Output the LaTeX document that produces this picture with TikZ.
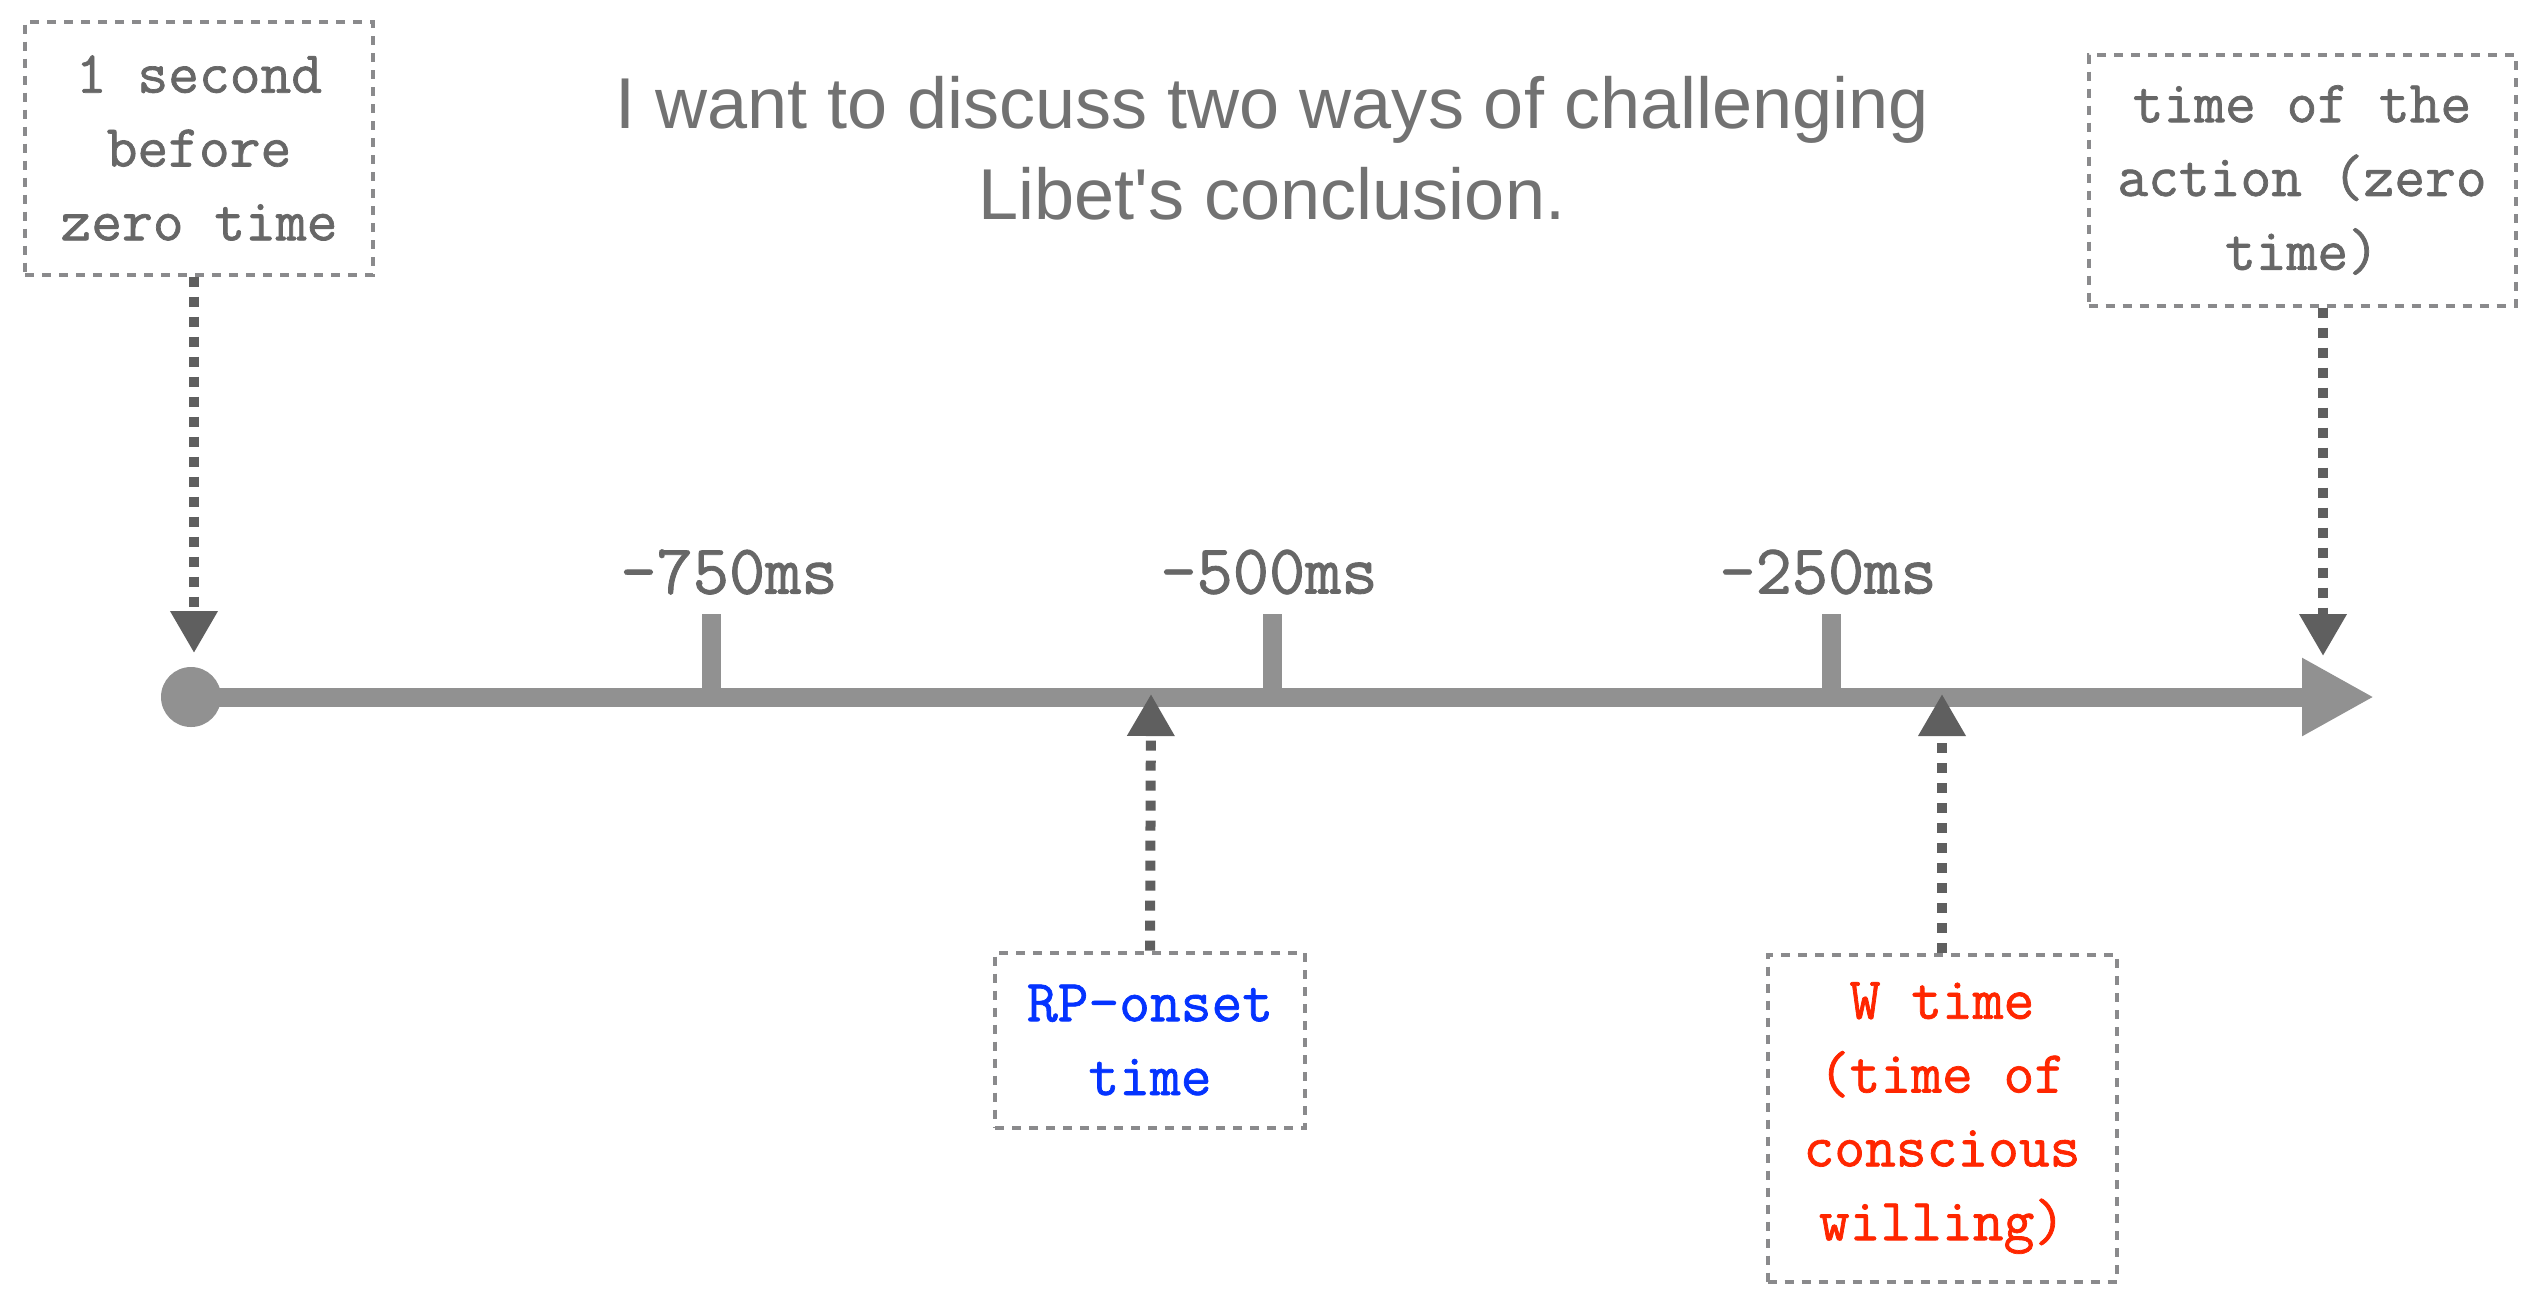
\documentclass[tikz,border=0pt]{standalone}
\usepackage{fontspec}
\newfontfamily\headfont{Liberation Sans}
\newfontfamily\typefont[FakeBold=1.2]{Latin Modern Mono}
\usetikzlibrary{arrows.meta}
\definecolor{axisgray}{HTML}{919191}
\definecolor{boxgray}{HTML}{8A8A8C}
\definecolor{arrowgray}{HTML}{5F5F5F}
\definecolor{textgray}{HTML}{676767}
\definecolor{headgray}{HTML}{727272}
\definecolor{rpblue}{HTML}{0433FF}
\definecolor{wred}{HTML}{FF2600}

\begin{document}
\begin{tikzpicture}[x=0.1mm, y=-0.1mm,
    axisline/.style={line width=1.9mm, draw=axisgray},
    timebox/.style={draw=boxgray, line width=0.4mm, dash pattern=on 0.9mm off 0.8mm,
      align=center, inner sep=0pt, text=textgray, font=\typefont\fontsize{17}{21}\selectfont},
    ticklabel/.style={text=textgray, font=\typefont\fontsize{20}{24}\selectfont},
    pointer/.style={draw=arrowgray, line width=1mm, dash pattern=on 1mm off 1mm,
      -{Triangle[length=4.2mm, width=4.5mm, fill=arrowgray]}}]
    \useasboundingbox (0,0) rectangle (2541,1291);

    % heading
    \node[align=center, text=headgray, font=\headfont\fontsize{20.5}{26}\selectfont] (head) at (1272,148)
      {I want to discuss two ways of challenging\\Libet's conclusion.};

    % time axis
    \node[circle, fill=axisgray, minimum size=6mm, inner sep=0pt] (start) at (191,697) {};
    \coordinate (end) at (2374,697);
    \draw[axisline, -{Triangle[length=7.2mm, width=7.3mm, fill=axisgray]}] (start.center) -- (end);
    \draw[axisline] (711,697) -- (711,614) (1272,697) -- (1272,614) (1831,697) -- (1831,614);
    \node[ticklabel] (t750) at (729,572) {-750ms};
    \node[ticklabel] (t500) at (1269,572) {-500ms};
    \node[ticklabel] (t250) at (1828,572) {-250ms};

    % boxes
    \node[timebox, minimum width=34.8mm, minimum height=25.3mm] (before) at (199,148)
      {1 second\\before\\zero time};
    \node[timebox, minimum width=42.7mm, minimum height=25.1mm] (action) at (2302,180)
      {time of the\\action (zero\\time)};
    \node[timebox, minimum width=31mm, minimum height=17.5mm, text=rpblue] (rp) at (1150,1040)
      {RP-onset\\time};
    \node[timebox, minimum width=34.9mm, minimum height=32.7mm, text=wred] (will) at (1942,1118)
      {W time\\(time of\\conscious\\willing)};

    % pointers
    \coordinate (beforetip) at (194,653);
    \coordinate (actiontip) at (2323,656);
    \coordinate (rptip) at (1151,694);
    \coordinate (willtip) at (1942,694);
    \draw[pointer] (before.south -| beforetip) -- (beforetip);
    \draw[pointer] (action.south -| actiontip) -- (actiontip);
    \draw[pointer] (rp.north) -- (rptip);
    \draw[pointer] (will.north) -- (willtip);
\end{tikzpicture}
\end{document}
